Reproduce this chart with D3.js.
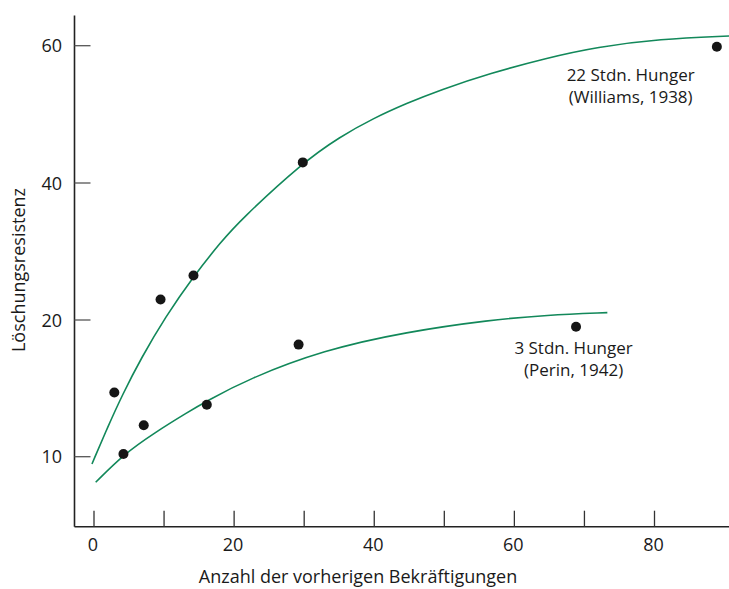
<!DOCTYPE html>
<html>
<head>
<meta charset="utf-8">
<script src="https://cdn.jsdelivr.net/npm/d3@7"></script>
<style>
  body { margin: 0; background: #fff; }
  svg { display: block; }
  text { font-family: "Open Sans", "Noto Sans", sans-serif; fill: #1a1a1a; }
</style>
</head>
<body>
<svg id="chart" width="729" height="589"></svg>
<script>
// ---- data ----
const xTicks = [0, 20, 40, 60, 80];
const xMinorTicks = [10, 30, 50, 70];
const yTicks = [10, 20, 40, 60];
const yTickLabels = ["10", "20", "40", "60"];

const pointsX = [2.9, 4.2, 7.1, 9.5, 14.2, 16.1, 29.2, 29.8, 68.8, 88.9];
const pointsY = [14.7, 10.2, 12.3, 23.0, 26.5, 13.8, 18.2, 43.0, 19.5, 59.85];

const curve22X = [-0.29, 2.0, 4.04, 6.75, 10.18, 14.17, 18.17, 20.84, 29.79, 35.11, 39.87, 44.63, 49.39, 56.52, 64.62, 71.75, 80.79, 90.64];
const curve22Y = [9.47, 12.22, 14.52, 17.23, 20.42, 26.35, 31.46, 34.53, 42.99, 46.74, 49.42, 51.61, 53.55, 55.98, 58.21, 59.81, 60.98, 61.41];

const curve3X = [0.24, 4.24, 8.66, 13.42, 16.09, 21.98, 32.73, 44.63, 56.52, 64.62, 73.27];
const curve3Y = [8.13, 10.18, 11.76, 13.27, 14.07, 15.68, 17.8, 19.14, 20.0, 20.73, 21.07];

const labelLines22 = ["22 Stdn. Hunger", "(Williams, 1938)"];
const labelLines3 = ["3 Stdn. Hunger", "(Perin, 1942)"];
const xTitle = "Anzahl der vorherigen Bekräftigungen";
const yTitle = "Löschungsresistenz";

// ---- chart ----
const svg = d3.select("#chart");
const axisColor = "#222";
const green = "#12885a";
const FS = 18;

const xScale = d3.scaleLinear().domain([0, 80]).range([94, 654.5]);
// broken axis: labels 10,20,40,60 evenly spaced
const yScale = d3.scaleLinear().domain(yTicks).range([456.7, 320, 183, 45.7]);

const M = { left: 74.5, bottom: 526.7, top: 15.5, right: 729 };

// axes lines
svg.append("line").attr("x1", M.left).attr("x2", M.left).attr("y1", M.top).attr("y2", M.bottom)
  .attr("stroke", axisColor).attr("stroke-width", 1.6);
svg.append("line").attr("x1", M.left).attr("x2", M.right).attr("y1", M.bottom).attr("y2", M.bottom)
  .attr("stroke", axisColor).attr("stroke-width", 1.6);

// x ticks (inward)
const allX = xTicks.concat(xMinorTicks);
svg.selectAll(".xt").data(allX).enter().append("line")
  .attr("x1", d => xScale(d)).attr("x2", d => xScale(d))
  .attr("y1", M.bottom).attr("y2", M.bottom - 16)
  .attr("stroke", "#333").attr("stroke-width", 1.3);
svg.selectAll(".xl").data(xTicks).enter().append("text")
  .attr("x", d => xScale(d) - 1).attr("y", 550.5)
  .attr("text-anchor", "middle").attr("font-size", FS)
  .text(d => d);

// y ticks (inward)
svg.selectAll(".yt").data(yTicks).enter().append("line")
  .attr("x1", M.left).attr("x2", M.left + 16)
  .attr("y1", d => yScale(d)).attr("y2", d => yScale(d))
  .attr("stroke", "#555").attr("stroke-width", 1.3);
svg.selectAll(".yl").data(yTicks).enter().append("text")
  .attr("x", 62).attr("y", d => yScale(d) + 6.5)
  .attr("text-anchor", "end").attr("font-size", FS)
  .text((d, i) => yTickLabels[i]);

// titles
svg.append("text").attr("x", 358).attr("y", 583)
  .attr("text-anchor", "middle").attr("font-size", FS).text(xTitle);
svg.append("text").attr("transform", "translate(24.5,270) rotate(-90)")
  .attr("text-anchor", "middle").attr("font-size", FS).text(yTitle);

// curves
const lineGen = d3.line().x(d => xScale(d[0])).y(d => yScale(d[1])).curve(d3.curveBasis);
svg.append("path").datum(d3.zip(curve22X, curve22Y)).attr("d", lineGen)
  .attr("fill", "none").attr("stroke", green).attr("stroke-width", 1.6);
svg.append("path").datum(d3.zip(curve3X, curve3Y)).attr("d", lineGen)
  .attr("fill", "none").attr("stroke", green).attr("stroke-width", 1.6);

// points
svg.selectAll(".pt").data(d3.zip(pointsX, pointsY)).enter().append("circle")
  .attr("cx", d => xScale(d[0])).attr("cy", d => yScale(d[1])).attr("r", 5)
  .attr("fill", "#161616");

// labels (two separate text lines each)
function addLabel(lines, cx, cy) {
  lines.forEach((s, i) => {
    svg.append("text").attr("text-anchor", "middle").attr("font-size", 17)
      .attr("x", cx).attr("y", cy + i * 22).text(s);
  });
}
addLabel(labelLines22, xScale(76.6), yScale(54.86));
addLabel(labelLines3, xScale(68.45), yScale(17.5));
</script>
</body>
</html>
